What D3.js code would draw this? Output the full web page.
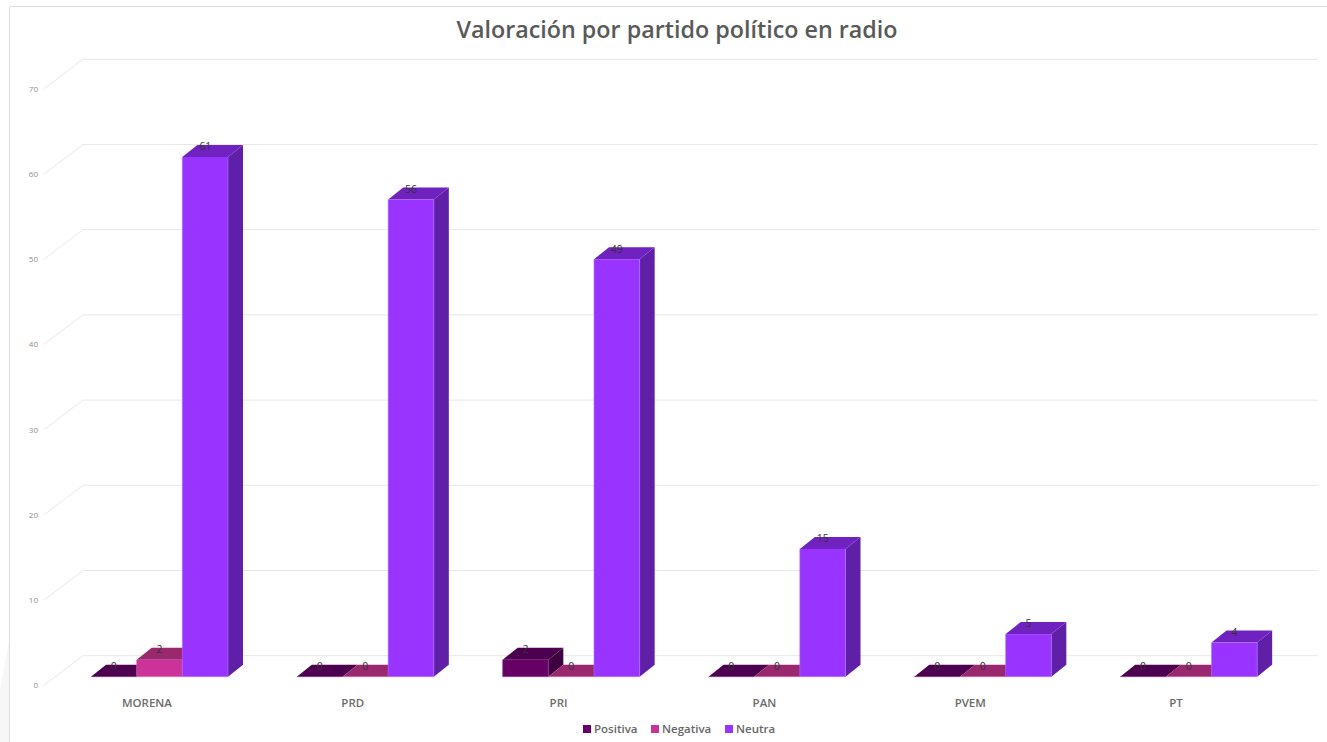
<!DOCTYPE html>
<html>
<head>
<meta charset="utf-8">
<title>Valoración por partido político en radio</title>
<script src="https://cdn.jsdelivr.net/npm/d3@7"></script>
<style>
  html, body { margin: 0; padding: 0; background: #fff; }
  svg { display: block; font-family: "Open Sans", sans-serif; }
</style>
</head>
<body>
<svg id="chart" width="1327" height="742"></svg>
<script>
// datos
var partidos = ["MORENA", "PRD", "PRI", "PAN", "PVEM", "PT"];
var series = ["Positiva", "Negativa", "Neutra"];
var positiva = [0, 0, 2, 0, 0, 0];
var negativa = [2, 0, 0, 0, 0, 0];
var neutra = [61, 56, 49, 15, 5, 4];
var valores = [positiva, negativa, neutra];
var ticks = [0, 10, 20, 30, 40, 50, 60, 70];

// colores: frente, tapa, lado
var frente = ["#660066", "#cc3399", "#9933ff"];
var tapa = ["#4d004f", "#99286f", "#6f22c0"];
var lado = ["#3f003f", "#7a2059", "#5f1fa6"];
var borde = ["#8a3f8f", "#dd6fb5", "#b070ff"];

var svg = d3.select("#chart");

// profundidad de la barra y del piso
var profX = 15, profY = 12;
var pisoX = 39, pisoY = 29.5;

var x = d3.scaleBand().domain(partidos).range([44, 1279]);
var xSerie = d3.scaleBand().domain(series).range([47, 184]);
// escala de la cara frontal de las barras
var y = d3.scaleLinear().domain([0, 70]).range([676.7, 80.3]);
// escala de la orilla frontal del piso (etiquetas del eje)
var yEje = d3.scaleLinear().domain([0, 70]).range([685.2, 88.8]);

// marco y mancha de fondo
svg.append("path")
  .attr("d", "M0,690 L9,640 L9,742 L0,742 Z")
  .attr("fill", "#f7f7f7");
svg.append("path")
  .attr("d", "M9.5,742 V6.5 H1327")
  .attr("fill", "none")
  .attr("stroke", "#dedede")
  .attr("stroke-width", 1);

// rejilla: diagonal y línea del fondo
var rejilla = svg.append("g")
  .attr("fill", "none")
  .attr("stroke", "#e8e8e8")
  .attr("stroke-width", 1);
rejilla.selectAll("path")
  .data(ticks)
  .enter()
  .append("path")
  .attr("d", function (d) {
    var y0 = yEje(d);
    return "M44," + y0 + " L" + (44 + pisoX) + "," + (y0 - pisoY) + " H1318";
  });

// eje Y
var ejeY = svg.append("g")
  .attr("transform", "translate(38,0)")
  .call(d3.axisLeft(yEje).tickValues(ticks).tickSize(0).tickPadding(0));
ejeY.select(".domain").remove();
ejeY.selectAll("text")
  .attr("font-size", 8)
  .attr("font-family", "'Open Sans', sans-serif")
  .attr("fill", "#8c8c8c");

// eje X
var ejeX = svg.append("g")
  .attr("transform", "translate(0,699)")
  .call(d3.axisBottom(x).tickSize(0).tickPadding(0));
ejeX.select(".domain").remove();
ejeX.selectAll("text")
  .attr("font-size", 11.5)
  .attr("font-weight", 600)
  .attr("font-family", "'Open Sans', sans-serif")
  .attr("fill", "#6b6b6b");

// barras, de izquierda a derecha
var barras = [];
partidos.forEach(function (p, i) {
  series.forEach(function (s, j) {
    barras.push({ partido: p, serie: j, valor: valores[j][i], x0: x(p) + xSerie(s) });
  });
});
var w = xSerie.bandwidth();

var barra = svg.append("g")
  .selectAll("g")
  .data(barras)
  .enter()
  .append("g");

// lado
barra.append("path")
  .attr("d", function (d) {
    var r = d.x0 + w;
    return "M" + r + "," + y(d.valor) + " l" + profX + "," + (-profY) +
      " V" + (y(0) - profY) + " L" + r + "," + y(0) + " Z";
  })
  .attr("fill", function (d) { return lado[d.serie]; });

// tapa
barra.append("path")
  .attr("d", function (d) {
    return "M" + d.x0 + "," + y(d.valor) + " l" + profX + "," + (-profY) +
      " h" + w + " l" + (-profX) + "," + profY + " Z";
  })
  .attr("fill", function (d) { return tapa[d.serie]; });

// frente
barra.append("rect")
  .attr("x", function (d) { return d.x0; })
  .attr("y", function (d) { return y(d.valor); })
  .attr("width", w)
  .attr("height", function (d) { return y(0) - y(d.valor); })
  .attr("fill", function (d) { return frente[d.serie]; });

// orilla clara de la cara frontal
barra.append("path")
  .attr("d", function (d) {
    return "M" + d.x0 + "," + y(d.valor) + " V" + y(0) + " H" + (d.x0 + w) + " V" + y(d.valor);
  })
  .attr("fill", "none")
  .attr("stroke", function (d) { return borde[d.serie]; })
  .attr("stroke-width", 0.6);

// etiquetas de valor, encima de todas las barras
svg.append("g")
  .selectAll("text")
  .data(barras)
  .enter()
  .append("text")
  .attr("x", function (d) { return d.x0 + w / 2; })
  .attr("y", function (d) { return y(d.valor) - 10.3; })
  .attr("dy", "0.35em")
  .attr("text-anchor", "middle")
  .attr("font-size", 10.5)
  .attr("fill", "#333")
  .text(function (d) { return d.valor; });

// título
svg.append("text")
  .attr("x", 677)
  .attr("y", 38)
  .attr("text-anchor", "middle")
  .attr("font-size", 23.3)
  .attr("font-weight", 600)
  .attr("fill", "#595959")
  .text("Valoración por partido político en radio");

// leyenda
var leyendaX = d3.scaleOrdinal().domain(series).range([583, 651, 725]);
var leyenda = svg.append("g")
  .selectAll("g")
  .data(series)
  .enter()
  .append("g")
  .attr("transform", function (d) { return "translate(" + leyendaX(d) + ",725)"; });
leyenda.append("rect")
  .attr("width", 8)
  .attr("height", 8)
  .attr("fill", function (d, i) { return frente[i]; });
leyenda.append("text")
  .attr("x", 11)
  .attr("y", 7.8)
  .attr("font-size", 11.5)
  .attr("font-weight", 600)
  .attr("fill", "#666")
  .text(function (d) { return d; });
</script>
</body>
</html>
